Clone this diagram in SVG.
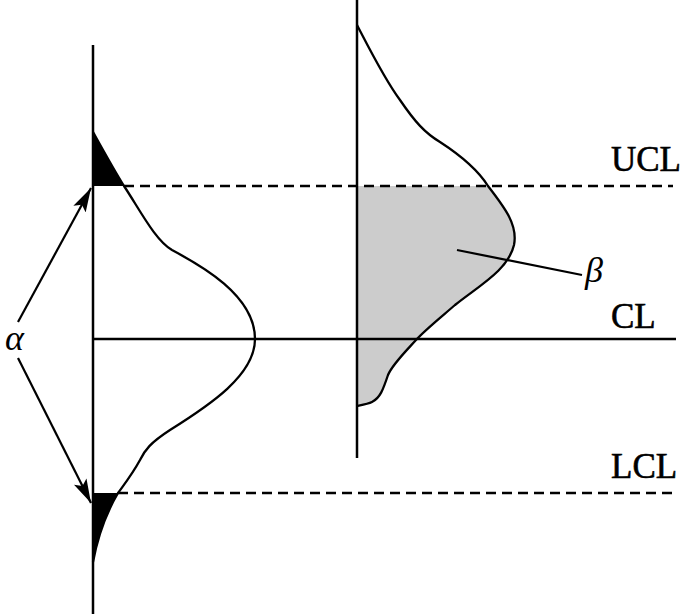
<svg xmlns="http://www.w3.org/2000/svg" width="681" height="614" viewBox="0 0 681 614">
<style>
.ax{stroke:#000;stroke-width:2.5;fill:none}
.dash{stroke:#000;stroke-width:2.5;stroke-dasharray:10 6;fill:none}
.curve{stroke:#000;stroke-width:2.3;fill:none}
.lbl{font-family:"Liberation Serif",serif;font-size:35px;fill:#000;stroke:#000;stroke-width:0.6}
.greek{font-family:"Liberation Serif",serif;font-style:italic;font-size:36px;fill:#000}
.arr{stroke:#000;stroke-width:2.2;fill:none}
</style>
<defs>
<marker id="ah" viewBox="0 0 24 14" refX="24" refY="7" markerWidth="24" markerHeight="14" markerUnits="userSpaceOnUse" orient="auto">
<path d="M0,0 L24,7 L0,14 L5,7 Z" fill="#000"/>
</marker>
</defs>
<rect width="681" height="614" fill="#fff"/>
<g id="right-dist">
<path d="M357,186 L488,186 C505,208 518,225 514,245 C508,270 480,285 455,305 C440,318 425,330 416,340 C405,352 392,365 388,375 C383,390 380,398 372,402 C368,404 362,405 357,406 Z" fill="#cccccc"/>
<path class="curve" d="M357,25 C370,50 385,80 400,100 C415,122 425,133 440,142 C460,155 478,170 488,186 C505,208 518,225 514,245 C508,270 480,285 455,305 C440,318 425,330 416,340 C405,352 392,365 388,375 C383,390 380,398 372,402 C368,404 362,405 357,406"/>
</g>
<g id="left-dist">
<path d="M93,132 C103,150 114,170 124,186 L93,186 Z" fill="#000"/>
<path d="M93,493 L118,493 C108,510 98,535 93,562 Z" fill="#000"/>
<path class="curve" d="M93,132 C103,150 114,170 124,186 C140,210 155,240 172,250 C200,265 255,295 255,339 C255,375 210,405 170,430 C150,443 145,450 140,460 C133,473 126,482 118,493 C108,510 98,535 93,562"/>
</g>
<g id="lines">
<line class="dash" x1="124" y1="186" x2="673" y2="186"/>
<line class="dash" x1="118" y1="493" x2="673" y2="493"/>
<line class="ax" x1="93" y1="339" x2="676" y2="339"/>
<line class="ax" x1="93" y1="45" x2="93" y2="614"/>
<line class="ax" x1="357" y1="0" x2="357" y2="458"/>
</g>
<g id="connectors">
<line class="arr" x1="18" y1="322" x2="91" y2="188" marker-end="url(#ah)"/>
<line class="arr" x1="18" y1="358" x2="91" y2="503" marker-end="url(#ah)"/>
<line class="arr" x1="457" y1="250" x2="582" y2="275"/>
</g>
<g id="labels">
<text class="lbl" x="611" y="171">UCL</text>
<text class="lbl" x="611" y="328">CL</text>
<text class="lbl" x="611" y="478">LCL</text>
<text class="greek" x="5" y="350">α</text>
<text class="greek" x="585" y="282">β</text>
</g>
</svg>
